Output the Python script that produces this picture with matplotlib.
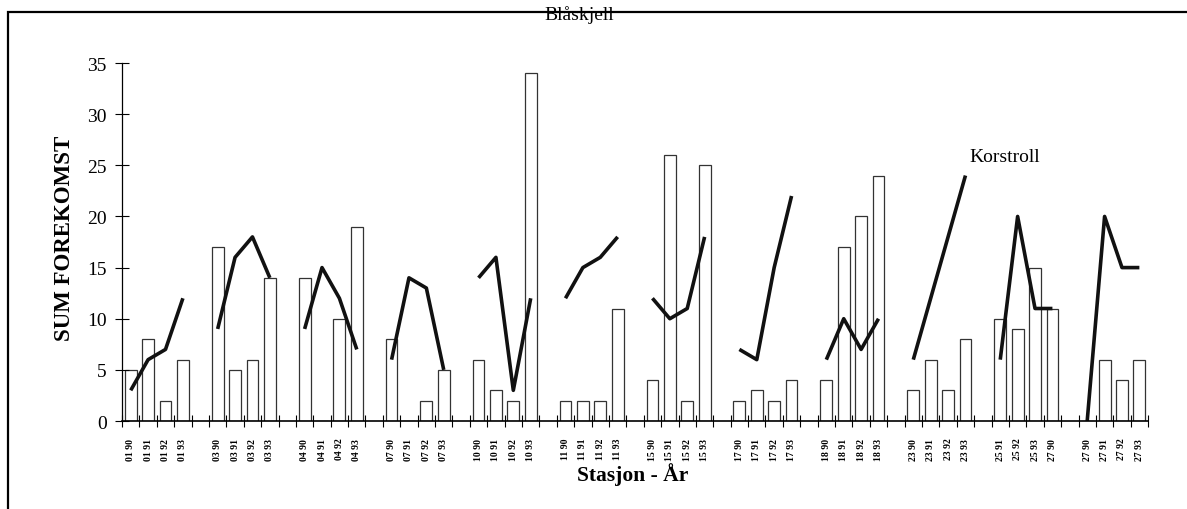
import numpy as np
import matplotlib.pyplot as plt
from matplotlib.patches import Rectangle

plt.rcParams['font.family'] = ['Liberation Serif', 'DejaVu Serif']

# stations and years, one empty slot between stations
stations = ["01", "03", "04", "07", "10", "11", "15", "17", "18", "23", "25", "27"]
labels_25 = ["25 91", "25 92", "25 93", "27 90"]
years = ["90", "91", "92", "93"]

# Blåskjell (bars) per station, four years each
blaskjell = [
    [5, 8, 2, 6],
    [17, 5, 6, 14],
    [14, 0, 10, 19],
    [8, 0, 2, 5],
    [6, 3, 2, 34],
    [2, 2, 2, 11],
    [4, 26, 2, 25],
    [2, 3, 2, 4],
    [4, 17, 20, 24],
    [3, 6, 3, 8],
    [10, 9, 15, 11],
    [0, 6, 4, 6],
]

# Korstroll (lines) per station
korstroll = [
    [3, 6, 7, 12],
    [9, 16, 18, 14],
    [9, 15, 12, 7],
    [6, 14, 13, 5],
    [14, 16, 3, 12],
    [12, 15, 16, 18],
    [12, 10, 11, 18],
    [7, 6, 15, 22],
    [6, 10, 7, 10],
    [6, 12, 18, 24],
    [6, 20, 11, 11],
    [0, 20, 15, 15],
]

fig = plt.figure(figsize=(11.87, 5.10), dpi=100)
ax = fig.add_axes([0.1028, 0.1725, 0.8644, 0.702])

tick_pos = []
tick_lab = []
for i, st in enumerate(stations):
    x = np.arange(4) + i * 5
    if st == "25":
        labs = labels_25
    else:
        labs = [st + " " + y for y in years]
    tick_pos.extend(x)
    tick_lab.extend(labs)
    ax.bar(x, blaskjell[i], width=0.68, facecolor="white", edgecolor="#333333", linewidth=0.9)
    ax.plot(x, korstroll[i], color="#111111", linewidth=2.6, solid_capstyle="butt")

n_cat = len(stations) * 5 - 1
ax.set_xlim(-0.5, n_cat - 0.5)
ax.set_ylim(0, 35)
ax.set_yticks(range(0, 36, 5))
ax.tick_params(axis="y", direction="inout", length=10, width=0.8, labelsize=14, pad=6)

ax.set_xticks(tick_pos)
ax.set_xticklabels(tick_lab, rotation=90, fontsize=7, fontweight="bold")
ax.set_xticks(np.arange(-0.5, n_cat, 1), minor=True)
ax.tick_params(axis="x", which="major", length=0, pad=12)
ax.tick_params(axis="x", which="minor", direction="inout", length=8, width=0.8)

for s in ["top", "right"]:
    ax.spines[s].set_visible(False)
ax.spines["left"].set_linewidth(0.9)
ax.spines["bottom"].set_linewidth(1.2)

fig.text(64 / 1187, 1 - 238 / 510, "SUM FOREKOMST", rotation=90, fontsize=16.5,
         fontweight="bold", ha="center", va="center")
fig.text(633 / 1187, 1 - 475 / 510, "Stasjon - År", fontsize=15.5,
         fontweight="bold", ha="center", va="center")

ax.text(23.8, 39.8, "Blåskjell", fontsize=14, va="center", ha="left", clip_on=False)
ax.text(48.2, 25.9, "Korstroll", fontsize=14, va="center", ha="left", clip_on=False)

# outer frame
fig.add_artist(Rectangle((8 / 1187, -0.2), 1.2, 1.2 - 13 / 510,
                         transform=fig.transFigure, fill=False,
                         edgecolor="black", linewidth=1.6))

fig.savefig("out.png", dpi=100)
